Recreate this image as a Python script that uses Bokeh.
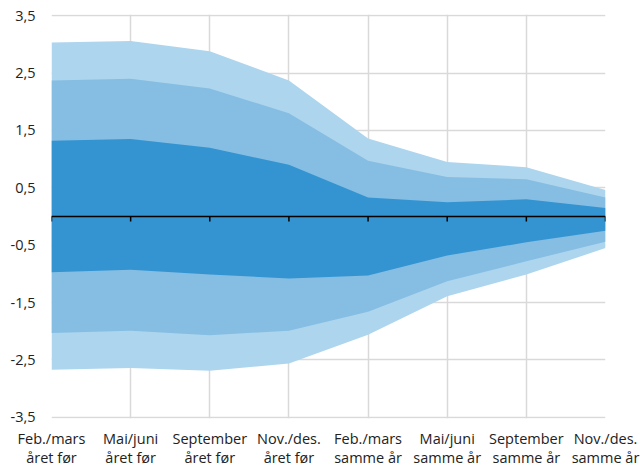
from bokeh.plotting import figure
from bokeh.models import Range1d, FixedTicker, ColumnDataSource
from bokeh.embed import file_html
from bokeh.resources import INLINE

categories = ["Feb./mars\nåret før", "Mai/juni\nåret før", "September\nåret før", "Nov./des.\nåret før",
              "Feb./mars\nsamme år", "Mai/juni\nsamme år", "September\nsamme år", "Nov./des.\nsamme år"]
outer_high = [3.03, 3.06, 2.88, 2.37, 1.36, 0.95, 0.86, 0.46]
mid_high = [2.37, 2.40, 2.23, 1.80, 0.97, 0.69, 0.65, 0.33]
inner_high = [1.32, 1.35, 1.20, 0.90, 0.33, 0.25, 0.30, 0.15]
inner_low = [-0.97, -0.93, -1.01, -1.08, -1.03, -0.68, -0.45, -0.25]
mid_low = [-2.03, -1.99, -2.07, -1.99, -1.66, -1.13, -0.78, -0.44]
outer_low = [-2.67, -2.64, -2.69, -2.56, -2.06, -1.39, -1.01, -0.55]
y_ticks = [-3.5, -2.5, -1.5, -0.5, 0.5, 1.5, 2.5, 3.5]

Y_MIN, Y_MAX = -3.5, 3.5
PAD = 0.02
TOP, BOTTOM = 14, 51
HEIGHT = 469
px_per_unit = (HEIGHT - TOP - BOTTOM) / (Y_MAX - Y_MIN + 2 * PAD)

xs = list(range(len(categories)))
n = len(xs)
src = ColumnDataSource(dict(x=xs, oh=outer_high, mh=mid_high, ih=inner_high,
                            il=inner_low, ml=mid_low, ol=outer_low,
                            z=[0] * n, t=[-5 / px_per_unit] * n))

p = figure(width=643, height=HEIGHT, output_backend="svg", toolbar_location=None,
           x_range=Range1d(0, n - 1), y_range=Range1d(Y_MIN - PAD, Y_MAX + PAD),
           min_border_left=51, min_border_right=38, min_border_top=TOP, min_border_bottom=BOTTOM)
p.outline_line_color = None
p.background_fill_color = "white"
p.border_fill_color = "white"

p.varea(x="x", y1="ol", y2="oh", source=src, fill_color="#aed5ee")
p.varea(x="x", y1="ml", y2="mh", source=src, fill_color="#86bee3")
p.varea(x="x", y1="il", y2="ih", source=src, fill_color="#3394d1")

p.line(x="x", y="z", source=src, line_color="black", line_width=1.5)
p.segment(x0="x", y0="z", x1="x", y1="t", source=src, line_color="black", line_width=1.5)

p.xaxis.ticker = FixedTicker(ticks=xs)
p.xaxis.major_label_overrides = {i: c for i, c in enumerate(categories)}
p.yaxis.ticker = FixedTicker(ticks=y_ticks)
p.yaxis.major_label_overrides = {v: f"{v:.1f}".replace(".", ",") for v in y_ticks}

for ax in (p.xaxis[0], p.yaxis[0]):
    ax.axis_line_color = None
    ax.major_tick_line_color = None
    ax.minor_tick_line_color = None
    ax.major_tick_out = 0
    ax.major_tick_in = 0
    ax.major_label_text_font = "Open Sans"
    ax.major_label_text_font_size = "14.5px"
    ax.major_label_text_color = "#222222"
p.xaxis.major_label_text_line_height = 1.0
p.xaxis.major_label_standoff = 10
p.yaxis.major_label_standoff = 16

p.xgrid.ticker = FixedTicker(ticks=xs)
p.ygrid.ticker = FixedTicker(ticks=y_ticks)
p.xgrid.grid_line_color = "#d9d9d9"
p.ygrid.grid_line_color = "#d9d9d9"
p.xgrid.grid_line_width = 1.5
p.ygrid.grid_line_width = 1.5

open("out.html", "w").write(file_html(p, INLINE))
